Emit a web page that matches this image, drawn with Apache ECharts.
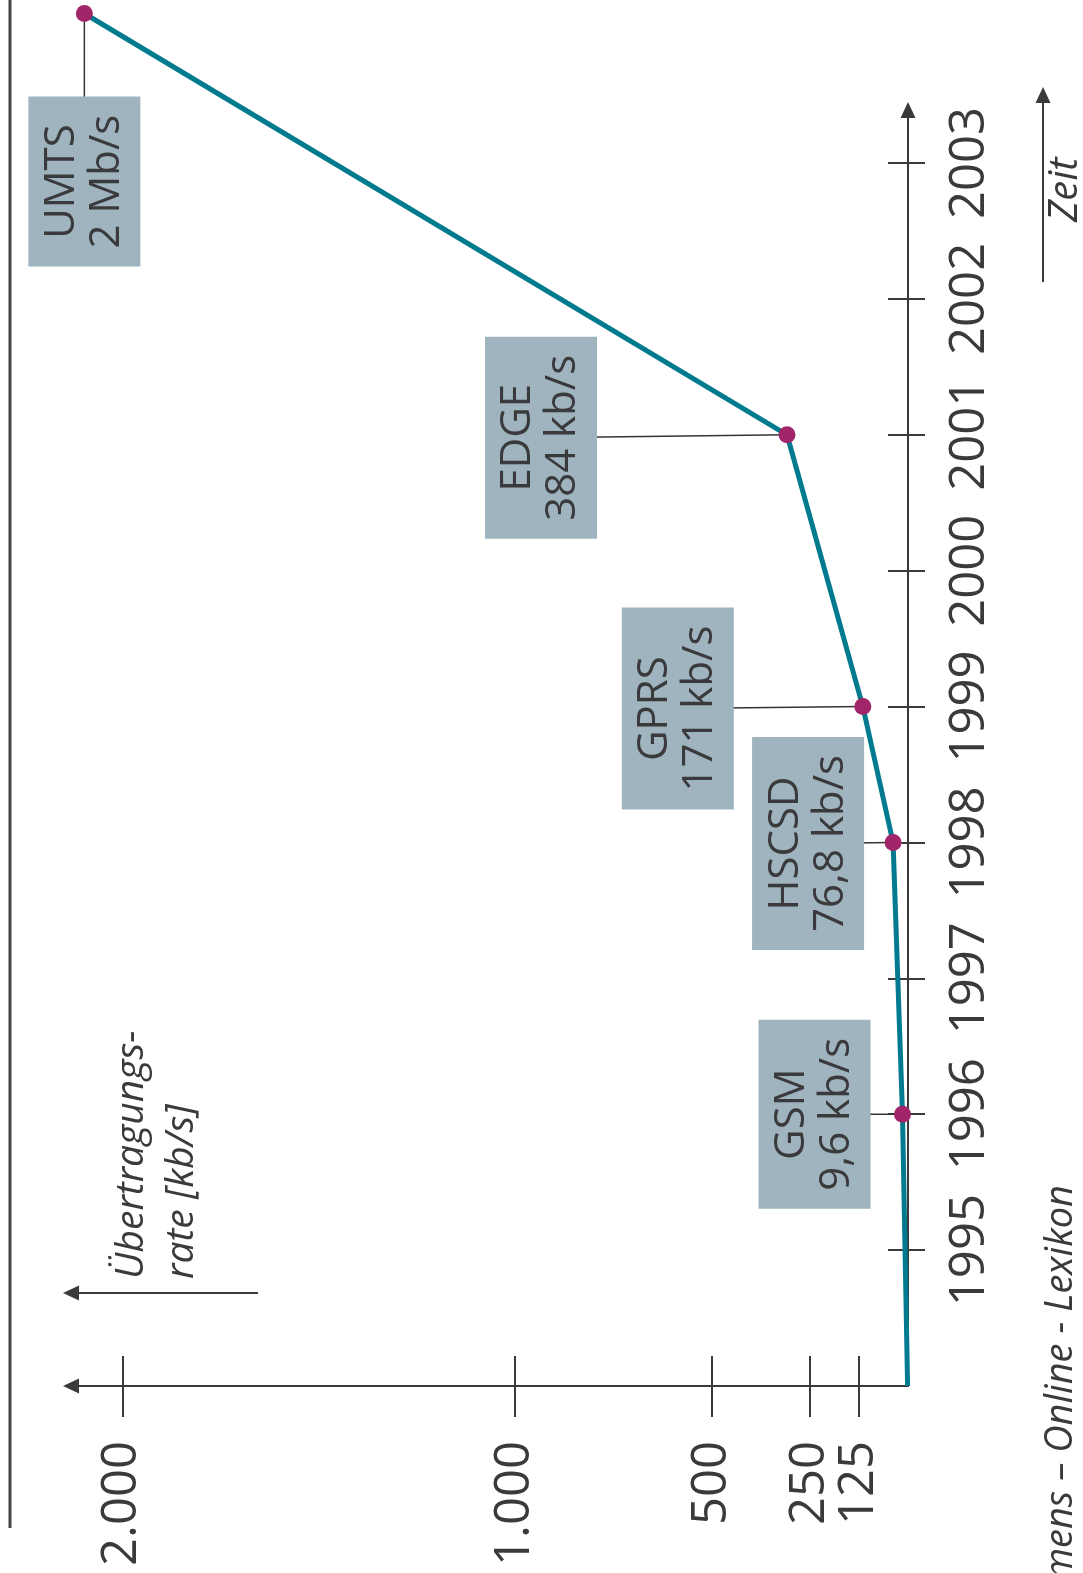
<!DOCTYPE html>
<html>
<head>
<meta charset="utf-8">
<script src="https://cdn.jsdelivr.net/npm/echarts@6/dist/echarts.min.js"></script>
<style>
html,body{margin:0;padding:0;background:#ffffff;}
#c{width:1083px;height:1573px;}
</style>
</head>
<body>
<div id="c"></div>
<script>
// ---- data ----
const techNames = ['', 'GSM', 'HSCSD', 'GPRS', 'EDGE', 'UMTS'];
const rateLabels = ['', '9,6 kb/s', '76,8 kb/s', '171 kb/s', '384 kb/s', '2 Mb/s'];
const years = [1994, 1996, 1998, 1999, 2001, 2004.1];
const rates = [1, 14, 38, 115, 308, 2097];
const rateTicks = [125, 250, 500, 1000, 2000];
const rateTickLabels = ['125', '250', '500', '1.000', '2.000'];
const yearTicks = [1995, 1996, 1997, 1998, 1999, 2000, 2001, 2002, 2003];
const valueAxisTitle = 'Übertragungs-\nrate [kb/s]';
const timeAxisTitle = 'Zeit';
const sourceText = 'Siemens – Online - Lexikon';

// ---- layout (annotation box offsets from their point, px) ----
const labelShift = {GSM: [-88, 0], HSCSD: [-85, 1], GPRS: [-185, 2], EDGE: [-246, 3], UMTS: [0, 168]};

const FONT = '"Open Sans", "DejaVu Sans", sans-serif';
const INK = '#3a3a3c';

const chart = echarts.init(document.getElementById('c'), null, {renderer: 'canvas', width: 1083, height: 1573});

const lineData = rates.map((r, i) => {
  const item = {value: [r, years[i]]};
  if (!techNames[i]) { item.symbol = 'none'; }
  return item;
});
const boxData = rates.map((r, i) => [r, years[i], i]).filter(d => techNames[d[2]]);

const xBase = {type: 'value', min: 0, max: 2131, inverse: true, position: 'bottom', gridIndex: 0, splitLine: {show: false}};
const yBase = {type: 'value', min: 1994, max: 2003.39, interval: 1, position: 'right', gridIndex: 0, splitLine: {show: false}};

const option = {
  animation: false,
  backgroundColor: '#ffffff',
  grid: {left: 71, right: 175, top: 110, bottom: 187, containLabel: false, outerBoundsMode: 'none'},
  xAxis: [
    Object.assign({}, xBase, {
      axisLine: {show: true, onZero: false, symbol: ['triangle', 'none'], symbolSize: [15, 16], lineStyle: {color: INK, width: 2}},
      axisTick: {show: true, customValues: rateTicks, length: 31, inside: false, lineStyle: {color: INK, width: 2}},
      axisLabel: {show: true, customValues: rateTicks, rotate: 90, margin: 55, fontSize: 49, color: INK, fontFamily: FONT,
        formatter: v => rateTickLabels[rateTicks.indexOf(v)]}
    }),
    Object.assign({}, xBase, {
      axisLine: {show: false, onZero: false},
      axisTick: {show: true, customValues: rateTicks, length: 30, inside: true, lineStyle: {color: INK, width: 2}},
      axisLabel: {show: false}
    })
  ],
  yAxis: [
    Object.assign({}, yBase, {
      axisLine: {show: true, onZero: false, symbol: ['none', 'triangle'], symbolSize: [15, 16], lineStyle: {color: INK, width: 2}},
      axisTick: {show: true, customValues: yearTicks, length: 17, inside: false, lineStyle: {color: INK, width: 2}},
      axisLabel: {show: true, customValues: yearTicks, rotate: 90, margin: 38, fontSize: 49, color: INK, fontFamily: FONT,
        formatter: v => String(v)}
    }),
    Object.assign({}, yBase, {
      axisLine: {show: false, onZero: false},
      axisTick: {show: true, customValues: yearTicks, length: 20, inside: true, lineStyle: {color: INK, width: 2}},
      axisLabel: {show: false}
    })
  ],
  series: [
    {
      type: 'custom',
      xAxisIndex: 0, yAxisIndex: 0,
      clip: false,
      z: 1,
      data: boxData,
      renderItem: function (params, api) {
        const idx = api.value(2);
        const p = api.coord([api.value(0), api.value(1)]);
        const s = labelShift[techNames[idx]];
        const c = [p[0] + s[0], p[1] + s[1]];
        return {
          type: 'group',
          children: [
            {type: 'line', shape: {x1: p[0], y1: p[1], x2: c[0], y2: c[1]}, style: {stroke: '#333333', lineWidth: 1.5}},
            {type: 'text', x: c[0], y: c[1], rotation: Math.PI / 2,
              style: {text: techNames[idx] + '\n' + rateLabels[idx], fill: INK, font: '42px ' + FONT,
                align: 'center', verticalAlign: 'middle', lineHeight: 45,
                backgroundColor: '#9fb4be', padding: [11, 18]}}
          ]
        };
      }
    },
    {
      type: 'line',
      xAxisIndex: 0, yAxisIndex: 0,
      clip: false,
      z: 3,
      data: lineData,
      symbol: 'circle',
      symbolSize: 17,
      showAllSymbol: true,
      itemStyle: {color: '#a2256a'},
      lineStyle: {color: '#007a8e', width: 5},
      label: {show: false}
    }
  ],
  graphic: [
    {type: 'line', shape: {x1: 10, y1: 0, x2: 10, y2: 1528}, style: {stroke: '#444444', lineWidth: 3}},
    {type: 'line', shape: {x1: 258, y1: 1293, x2: 72, y2: 1293}, style: {stroke: INK, lineWidth: 2}},
    {type: 'polygon', shape: {points: [[63, 1293], [79, 1285.5], [79, 1300.5]]}, style: {fill: INK}},
    {type: 'text', x: 107, y: 1279, rotation: Math.PI / 2,
      style: {text: valueAxisTitle, font: 'italic 39px ' + FONT, fill: INK, align: 'left', verticalAlign: 'top', lineHeight: 50}},
    {type: 'line', shape: {x1: 1043, y1: 282, x2: 1043, y2: 96}, style: {stroke: INK, lineWidth: 2}},
    {type: 'polygon', shape: {points: [[1043, 87], [1035.5, 103], [1050.5, 103]]}, style: {fill: INK}},
    {type: 'text', x: 1066, y: 222, rotation: Math.PI / 2,
      style: {text: timeAxisTitle, font: 'italic 40px ' + FONT, fill: INK, align: 'left', verticalAlign: 'middle'}},
    {type: 'text', x: 1061, y: 1185, rotation: Math.PI / 2,
      style: {text: sourceText, font: 'italic 38px ' + FONT, fill: INK, align: 'right', verticalAlign: 'middle'}}
  ]
};
chart.setOption(option);
</script>
</body>
</html>
